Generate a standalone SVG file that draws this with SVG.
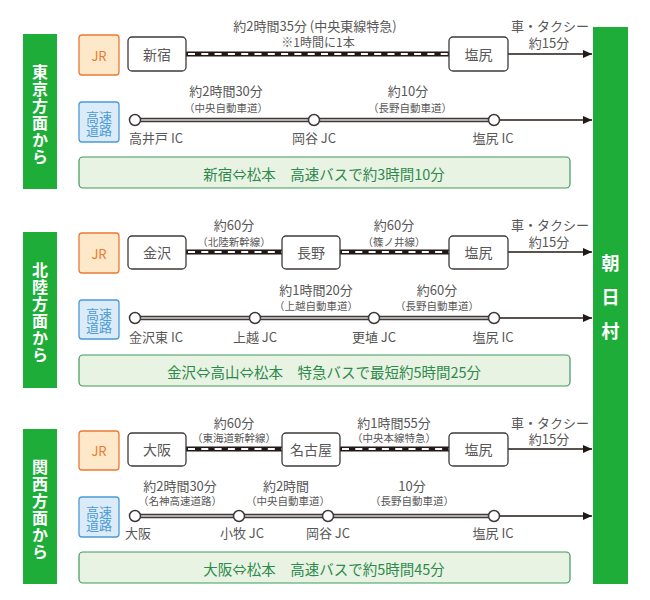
<svg xmlns="http://www.w3.org/2000/svg" width="650" height="600" viewBox="0 0 650 600">
<defs>
<style>
text{font-family:"Noto Sans CJK JP","Noto Sans",sans-serif;dominant-baseline:central;}
.t{fill:#595757;font-size:13px;text-anchor:middle;}
.s{fill:#595757;font-size:10.5px;}
.st{fill:#595757;font-size:14px;text-anchor:middle;}
.bar{fill:#1fad3a;}
.vt{fill:#fff;font-size:16px;font-weight:bold;text-anchor:middle;writing-mode:vertical-rl;letter-spacing:1px;}
.jr{fill:#fde8c9;stroke:#ec7a31;stroke-width:1.3;}
.jrt{fill:#ec7a31;font-size:13px;text-anchor:middle;}
.hw{fill:#dcebf8;stroke:#4a9bd6;stroke-width:1.3;}
.hwt{fill:#4a9bd6;font-size:13px;text-anchor:middle;}
.sta{fill:#fff;stroke:#3e3a39;stroke-width:1.3;}
.rail{stroke:#231815;stroke-width:5;fill:none;}
.raild{stroke:#fff;stroke-width:2;stroke-dasharray:7 6.3;fill:none;}
.road{stroke:#3e3a39;stroke-width:4.5;fill:none;}
.roadi{stroke:#d9d4d0;stroke-width:1.6;fill:none;}
.arr{stroke:#231815;stroke-width:1.3;fill:none;marker-end:url(#ah);}
.ic{fill:#fff;stroke:#3e3a39;stroke-width:1.5;}
.sum{fill:#e9f3e3;stroke:#3f9a5c;stroke-width:1.2;}
.sumt{fill:#2e8a4c;font-size:14.5px;text-anchor:middle;}
</style>
<marker id="ah" markerWidth="10" markerHeight="8" refX="9" refY="4" orient="auto" markerUnits="userSpaceOnUse">
<path d="M0,0 L9,4 L0,8 Z" fill="#231815"/>
</marker>
</defs>
<rect width="650" height="600" fill="#fff"/>

<!-- connectors -->
<g id="connectors">
<line class="rail" x1="186" y1="54" x2="449" y2="54"/>
<line class="raild" x1="188" y1="54" x2="449" y2="54"/>
<line class="arr" x1="508" y1="54" x2="592" y2="54"/>
<line class="road" x1="135" y1="120" x2="494" y2="120"/>
<line class="roadi" x1="135" y1="120" x2="494" y2="120"/>
<line class="arr" x1="494" y1="120" x2="592" y2="120"/>
<line class="rail" x1="186" y1="252" x2="282" y2="252"/>
<line class="raild" x1="188" y1="252" x2="282" y2="252"/>
<line class="rail" x1="340" y1="252" x2="449" y2="252"/>
<line class="raild" x1="342" y1="252" x2="449" y2="252"/>
<line class="arr" x1="508" y1="252" x2="592" y2="252"/>
<line class="road" x1="135" y1="318" x2="494" y2="318"/>
<line class="roadi" x1="135" y1="318" x2="494" y2="318"/>
<line class="arr" x1="494" y1="318" x2="592" y2="318"/>
<line class="rail" x1="186" y1="449" x2="282" y2="449"/>
<line class="raild" x1="188" y1="449" x2="282" y2="449"/>
<line class="rail" x1="340" y1="449" x2="449" y2="449"/>
<line class="raild" x1="342" y1="449" x2="449" y2="449"/>
<line class="arr" x1="508" y1="449" x2="592" y2="449"/>
<line class="road" x1="135" y1="516" x2="494" y2="516"/>
<line class="roadi" x1="135" y1="516" x2="494" y2="516"/>
<line class="arr" x1="494" y1="516" x2="592" y2="516"/>
</g>

<g id="asahimura">
<rect class="bar" x="593" y="27" width="35" height="557"/>
<text class="vt" x="610.5" y="305" style="font-size:18px;letter-spacing:16px">朝日村</text>
</g>

<!-- ===== Tokyo ===== -->
<g id="sec-tokyo">
<rect class="bar" x="23" y="34" width="34" height="155"/>
<text class="vt" x="40" y="115">東京方面から</text>
</g>
<g id="tokyo-jr">
<rect class="jr" x="79" y="35" width="40" height="40" rx="3"/>
<text class="jrt" x="99" y="55">JR</text>
</g>
<g id="tokyo-hw">
<rect class="hw" x="79" y="102" width="40" height="40" rx="3"/>
<text class="hwt"><tspan x="99" y="116">高速</tspan><tspan x="99" y="129">道路</tspan></text>
</g>
<g id="tokyo-shinjuku">
<rect class="sta" x="128" y="37" width="58" height="34" rx="4"/>
<text class="st" x="157" y="54">新宿</text>
</g>
<g id="tokyo-shiojiri">
<rect class="sta" x="449" y="37" width="59" height="34" rx="4"/>
<text class="st" x="478.5" y="54">塩尻</text>
</g>
<g id="tokyo-labels">
<text class="t"><tspan x="315" y="25">約2時間35分 (中央東線特急)</tspan><tspan x="318" y="41" style="font-size:12px">※1時間に1本</tspan></text>
<text class="t"><tspan x="550" y="25">車・タクシー</tspan><tspan x="549" y="42">約15分</tspan></text>
<text class="t"><tspan x="226" y="90">約2時間30分</tspan><tspan class="s" x="226" y="107">（中央自動車道）</tspan></text>
<text class="t"><tspan x="408" y="90">約10分</tspan><tspan class="s" x="410" y="107">（長野自動車道）</tspan></text>
</g>
<g id="tokyo-ic1"><circle class="ic" cx="135" cy="120" r="5.5"/><text class="t" x="156" y="137">高井戸 IC</text></g>
<g id="tokyo-ic2"><circle class="ic" cx="314" cy="120" r="5.5"/><text class="t" x="314" y="137">岡谷 JC</text></g>
<g id="tokyo-ic3"><circle class="ic" cx="494" cy="120" r="5.5"/><text class="t" x="493" y="137">塩尻 IC</text></g>
<g id="tokyo-sum">
<rect class="sum" x="79" y="157" width="491" height="31" rx="4"/>
<text class="sumt" x="324" y="173">新宿⇔松本　高速バスで約3時間10分</text>
</g>

<!-- ===== Hokuriku ===== -->
<g id="sec-hokuriku">
<rect class="bar" x="23" y="232" width="34" height="156"/>
<text class="vt" x="40" y="313">北陸方面から</text>
</g>
<g id="hokuriku-jr">
<rect class="jr" x="79" y="233" width="40" height="40" rx="3"/>
<text class="jrt" x="99" y="253">JR</text>
</g>
<g id="hokuriku-hw">
<rect class="hw" x="79" y="300" width="40" height="39" rx="3"/>
<text class="hwt"><tspan x="99" y="313">高速</tspan><tspan x="99" y="326">道路</tspan></text>
</g>
<g id="hokuriku-kanazawa">
<rect class="sta" x="128" y="236" width="58" height="33" rx="4"/>
<text class="st" x="157" y="252">金沢</text>
</g>
<g id="hokuriku-nagano">
<rect class="sta" x="282" y="236" width="58" height="33" rx="4"/>
<text class="st" x="311" y="252">長野</text>
</g>
<g id="hokuriku-shiojiri">
<rect class="sta" x="449" y="236" width="59" height="33" rx="4"/>
<text class="st" x="478.5" y="252">塩尻</text>
</g>
<g id="hokuriku-labels">
<text class="t"><tspan x="234" y="224">約60分</tspan><tspan class="s" x="234" y="241">（北陸新幹線）</tspan></text>
<text class="t"><tspan x="394" y="224">約60分</tspan><tspan class="s" x="394" y="241">（篠ノ井線）</tspan></text>
<text class="t"><tspan x="550" y="224">車・タクシー</tspan><tspan x="549" y="241">約15分</tspan></text>
<text class="t"><tspan x="316" y="289">約1時間20分</tspan><tspan class="s" x="316" y="305">（上越自動車道）</tspan></text>
<text class="t"><tspan x="437" y="289">約60分</tspan><tspan class="s" x="437" y="305">（長野自動車道）</tspan></text>
</g>
<g id="hokuriku-ic1"><circle class="ic" cx="135" cy="318" r="5.5"/><text class="t" x="156" y="336">金沢東 IC</text></g>
<g id="hokuriku-ic2"><circle class="ic" cx="255" cy="318" r="5.5"/><text class="t" x="255" y="336">上越 JC</text></g>
<g id="hokuriku-ic3"><circle class="ic" cx="374" cy="318" r="5.5"/><text class="t" x="374" y="336">更埴 JC</text></g>
<g id="hokuriku-ic4"><circle class="ic" cx="494" cy="318" r="5.5"/><text class="t" x="493" y="336">塩尻 IC</text></g>
<g id="hokuriku-sum">
<rect class="sum" x="79" y="355" width="491" height="31" rx="4"/>
<text class="sumt" x="324" y="371">金沢⇔高山⇔松本　特急バスで最短約5時間25分</text>
</g>

<!-- ===== Kansai ===== -->
<g id="sec-kansai">
<rect class="bar" x="23" y="429" width="34" height="155"/>
<text class="vt" x="40" y="510">関西方面から</text>
</g>
<g id="kansai-jr">
<rect class="jr" x="79" y="431" width="40" height="39" rx="3"/>
<text class="jrt" x="99" y="450">JR</text>
</g>
<g id="kansai-hw">
<rect class="hw" x="79" y="497" width="40" height="40" rx="3"/>
<text class="hwt"><tspan x="99" y="511">高速</tspan><tspan x="99" y="524">道路</tspan></text>
</g>
<g id="kansai-osaka">
<rect class="sta" x="128" y="433" width="58" height="33" rx="4"/>
<text class="st" x="157" y="449">大阪</text>
</g>
<g id="kansai-nagoya">
<rect class="sta" x="282" y="433" width="58" height="33" rx="4"/>
<text class="st" x="311" y="449">名古屋</text>
</g>
<g id="kansai-shiojiri">
<rect class="sta" x="449" y="433" width="59" height="33" rx="4"/>
<text class="st" x="478.5" y="449">塩尻</text>
</g>
<g id="kansai-labels">
<text class="t"><tspan x="234" y="422">約60分</tspan><tspan class="s" x="234" y="437">（東海道新幹線）</tspan></text>
<text class="t"><tspan x="394" y="422">約1時間55分</tspan><tspan class="s" x="394" y="437">（中央本線特急）</tspan></text>
<text class="t"><tspan x="550" y="422">車・タクシー</tspan><tspan x="549" y="438">約15分</tspan></text>
<text class="t"><tspan x="180" y="485">約2時間30分</tspan><tspan class="s" x="180" y="500">（名神高速道路）</tspan></text>
<text class="t"><tspan x="286" y="485">約2時間</tspan><tspan class="s" x="288" y="500">（中央自動車道）</tspan></text>
<text class="t"><tspan x="412" y="485">10分</tspan><tspan class="s" x="412" y="500">（長野自動車道）</tspan></text>
</g>
<g id="kansai-ic1"><circle class="ic" cx="135" cy="516" r="5.5"/><text class="t" x="138" y="532">大阪</text></g>
<g id="kansai-ic2"><circle class="ic" cx="239" cy="516" r="5.5"/><text class="t" x="242" y="532">小牧 JC</text></g>
<g id="kansai-ic3"><circle class="ic" cx="328" cy="516" r="5.5"/><text class="t" x="328" y="532">岡谷 JC</text></g>
<g id="kansai-ic4"><circle class="ic" cx="494" cy="516" r="5.5"/><text class="t" x="493" y="532">塩尻 IC</text></g>
<g id="kansai-sum">
<rect class="sum" x="79" y="552" width="491" height="31" rx="4"/>
<text class="sumt" x="324" y="568">大阪⇔松本　高速バスで約5時間45分</text>
</g>
</svg>
